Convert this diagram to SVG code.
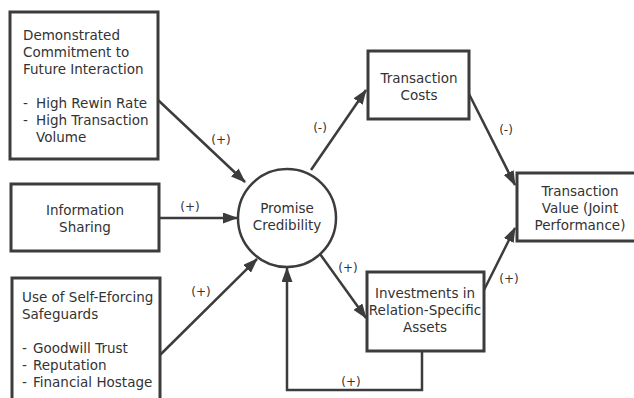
<svg xmlns="http://www.w3.org/2000/svg" width="634" height="398" viewBox="0 0 634 398">
<style>
.box{fill:#fff;stroke:#3c3c3c;stroke-width:3}
.t{font-family:"DejaVu Sans",sans-serif;font-size:13.5px;fill:#333}
.c{text-anchor:middle}
.lbl{font-family:"DejaVu Sans",sans-serif;font-size:12px;fill:#333;text-anchor:middle}
.edge{fill:none;stroke:#3c3c3c;stroke-width:2.5}
</style>
<defs>
<marker id="ah" viewBox="0 0 15 11" refX="14" refY="5.5" markerWidth="15" markerHeight="11" markerUnits="userSpaceOnUse" orient="auto">
<path d="M0,0 L15,5.5 L0,11 z" fill="#3c3c3c"/>
</marker>
</defs>
<rect width="634" height="398" fill="#fff"/>
<g id="connectors">
<line class="edge" x1="158" y1="100" x2="245" y2="182" marker-end="url(#ah)"/>
<line class="edge" x1="159" y1="218" x2="237" y2="218" marker-end="url(#ah)"/>
<line class="edge" x1="160" y1="355" x2="257" y2="259" marker-end="url(#ah)"/>
<line class="edge" x1="311" y1="170" x2="366" y2="90" marker-end="url(#ah)"/>
<line class="edge" x1="469" y1="94" x2="515" y2="185" marker-end="url(#ah)"/>
<line class="edge" x1="320" y1="254" x2="366" y2="318" marker-end="url(#ah)"/>
<line class="edge" x1="484" y1="290" x2="515" y2="228" marker-end="url(#ah)"/>
<polyline class="edge" points="422,351 422,390 287,390 287,268" marker-end="url(#ah)"/>
<text class="lbl" x="221" y="144">(+)</text>
<text class="lbl" x="190" y="211">(+)</text>
<text class="lbl" x="201" y="296">(+)</text>
<text class="lbl" x="320" y="132">(-)</text>
<text class="lbl" x="506" y="134">(-)</text>
<text class="lbl" x="348" y="272">(+)</text>
<text class="lbl" x="509" y="283">(+)</text>
<text class="lbl" x="351" y="386">(+)</text>
</g>
<g id="commitment">
<rect class="box" x="10" y="12" width="148" height="147"/>
<text class="t" x="23" y="40">Demonstrated</text>
<text class="t" x="23" y="57">Commitment to</text>
<text class="t" x="23" y="74">Future Interaction</text>
<text class="t" x="23" y="108">-<tspan x="36">High Rewin Rate</tspan></text>
<text class="t" x="23" y="125">-<tspan x="36">High Transaction</tspan></text>
<text class="t" x="36" y="142">Volume</text>
</g>
<g id="info">
<rect class="box" x="11" y="184" width="148" height="67"/>
<text class="t c" x="85" y="215">Information</text>
<text class="t c" x="85" y="232">Sharing</text>
</g>
<g id="safeguards">
<rect class="box" x="12" y="278" width="148" height="135"/>
<text class="t" x="22" y="302">Use of Self-Eforcing</text>
<text class="t" x="22" y="319">Safeguards</text>
<text class="t" x="22" y="353">-<tspan x="33">Goodwill Trust</tspan></text>
<text class="t" x="22" y="370">-<tspan x="33">Reputation</tspan></text>
<text class="t" x="22" y="387">-<tspan x="33">Financial Hostage</tspan></text>
</g>
<g id="promise">
<circle cx="287" cy="218" r="49" fill="#fff" stroke="#3c3c3c" stroke-width="2.5"/>
<text class="t c" x="287" y="213">Promise</text>
<text class="t c" x="287" y="230">Credibility</text>
</g>
<g id="costs">
<rect class="box" x="368" y="51" width="101" height="68"/>
<text class="t c" x="419" y="83">Transaction</text>
<text class="t c" x="419" y="100">Costs</text>
</g>
<g id="value">
<rect class="box" x="517" y="173" width="130" height="68"/>
<text class="t c" x="580" y="196">Transaction</text>
<text class="t c" x="580" y="213">Value (Joint</text>
<text class="t c" x="580" y="230">Performance)</text>
</g>
<g id="investments">
<rect class="box" x="367" y="272" width="117" height="79"/>
<text class="t c" x="425" y="298">Investments in</text>
<text class="t c" x="425" y="315">Relation-Specific</text>
<text class="t c" x="425" y="332">Assets</text>
</g>
</svg>
